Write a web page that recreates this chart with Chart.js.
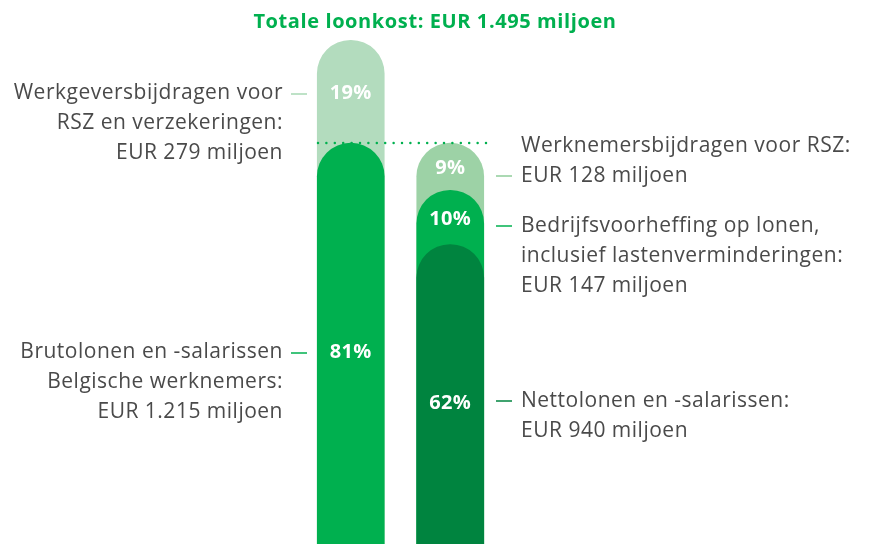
<!DOCTYPE html>
<html>
<head>
<meta charset="utf-8">
<script src="https://cdn.jsdelivr.net/npm/chart.js@4"></script>
<style>
  html, body { margin: 0; padding: 0; background: #fff; overflow: hidden; }
  #wrap { width: 872px; height: 544px; overflow: hidden; position: relative; }
</style>
</head>
<body>
<div id="wrap"><canvas id="chart" width="872" height="600"></canvas></div>
<script>
// Data (EUR miljoen)
const categories = ['Totale loonkost', 'Brutolonen'];
const loonkostParts = [1215, 279];          // bruto, werkgeversbijdragen
const brutoParts = [940, 147, 128];         // netto, bedrijfsvoorheffing, werknemersbijdragen
const loonkostPct = ['81%', '19%'];
const brutoPct = ['62%', '10%', '9%'];
const totalLoonkost = 1495;
const titleText = 'Totale loonkost: EUR 1.495 miljoen';

const leftNotes = [
    ['Werkgeversbijdragen voor', 'RSZ en verzekeringen:', 'EUR 279 miljoen'],
    ['Brutolonen en -salarissen', 'Belgische werknemers:', 'EUR 1.215 miljoen']
];
const rightNotes = [
    ['Werknemersbijdragen voor RSZ:', 'EUR 128 miljoen'],
    ['Bedrijfsvoorheffing op lonen,', 'inclusief lastenverminderingen:', 'EUR 147 miljoen'],
    ['Nettolonen en -salarissen:', 'EUR 940 miljoen']
];

// Colours
const LIGHT = '#b3dcbe';
const MID = '#9dd2a6';
const BRIGHT = '#00b04f';
const DARK = '#00843f';
const TEXT = '#4a4a4a';

// layout of the annotation texts (first baseline, line with the dash)
const leftLayout = [
    { y: 99, dash: 0, color: '#a9d9b4' },
    { y: 358, dash: 0, color: BRIGHT }
];
const rightLayout = [
    { y: 152, dash: 1, color: '#8fcd9a' },
    { y: 232, dash: 0, color: BRIGHT },
    { y: 407, dash: 0, color: DARK }
];
const LINE_H = 30;
const VISIBLE_BOTTOM = 558;

// cumulative tops per level
function cumulative(parts) {
    let sum = 0;
    return parts.map(v => (sum += v));
}
const loonkostTops = cumulative(loonkostParts);
const brutoTops = cumulative(brutoParts);

const segColors = [
    [BRIGHT, DARK],
    [LIGHT, BRIGHT],
    [null, MID]
];

const datasets = [0, 1, 2].map(i => ({
    label: 'level' + i,
    data: [loonkostTops[i] ?? null, brutoTops[i] ?? null],
    backgroundColor: segColors[i],
    grouped: false,
    barThickness: 67,
    borderSkipped: false,
    borderRadius: { topLeft: 34, topRight: 34, bottomLeft: 0, bottomRight: 0 }
}));

const FONT = '"Open Sans", "Noto Sans", sans-serif';

const decorations = {
    id: 'decorations',
    afterDatasetsDraw(chart) {
        const ctx = chart.ctx;
        const x = chart.scales.x;
        const y = chart.scales.y;

        // dotted line at the gross salary level
        ctx.save();
        ctx.fillStyle = BRIGHT;
        const yLine = Math.round(y.getPixelForValue(loonkostTops[0]));
        for (let px = 318; px <= 486; px += 8.4) {
            ctx.beginPath();
            ctx.arc(px, yLine, 1.25, 0, Math.PI * 2);
            ctx.fill();
        }
        ctx.restore();

        // percentages inside the bars
        ctx.save();
        ctx.fillStyle = '#fff';
        ctx.font = 'bold 20px ' + FONT;
        ctx.letterSpacing = '0.3px';
        ctx.textAlign = 'center';
        ctx.textBaseline = 'alphabetic';
        const drawPct = (idx, tops, pcts) => {
            const cx = x.getPixelForValue(idx);
            tops.forEach((t, i) => {
                const top = y.getPixelForValue(t);
                const bottom = i === 0 ? VISIBLE_BOTTOM : y.getPixelForValue(tops[i - 1]);
                ctx.fillText(pcts[i], cx, (top + bottom) / 2 + 7.5);
            });
        };
        drawPct(0, loonkostTops, loonkostPct);
        drawPct(1, brutoTops, brutoPct);
        ctx.restore();

        // title
        ctx.save();
        ctx.fillStyle = BRIGHT;
        ctx.font = 'bold 20px ' + FONT;
        ctx.letterSpacing = '0.6px';
        ctx.textAlign = 'center';
        ctx.fillText(titleText, 435, 28);
        ctx.restore();

        // annotations
        ctx.save();
        ctx.font = '21px ' + FONT;
        ctx.letterSpacing = '0.5px';
        ctx.fillStyle = TEXT;
        ctx.lineWidth = 1.5;
        leftNotes.forEach((lines, n) => {
            const l = leftLayout[n];
            ctx.textAlign = 'right';
            lines.forEach((s, i) => ctx.fillText(s, 283, l.y + i * LINE_H));
            const dy = l.y + l.dash * LINE_H - 5;
            ctx.strokeStyle = l.color;
            ctx.beginPath();
            ctx.moveTo(291, dy);
            ctx.lineTo(307, dy);
            ctx.stroke();
        });
        rightNotes.forEach((lines, n) => {
            const l = rightLayout[n];
            ctx.textAlign = 'left';
            lines.forEach((s, i) => ctx.fillText(s, 521, l.y + i * LINE_H));
            const dy = l.y + l.dash * LINE_H - 6;
            ctx.strokeStyle = l.color;
            ctx.beginPath();
            ctx.moveTo(496, dy);
            ctx.lineTo(512, dy);
            ctx.stroke();
        });
        ctx.restore();
    }
};

new Chart(document.getElementById('chart'), {
    type: 'bar',
    data: { labels: categories, datasets },
    options: {
        responsive: false,
        animation: false,
        devicePixelRatio: 1,
        layout: { padding: { top: 40, bottom: 9, left: 301, right: 372 } },
        plugins: {
            legend: { display: false },
            tooltip: { enabled: false },
            title: { display: false }
        },
        scales: {
            x: { display: false, offset: true },
            y: { display: false, min: 0, max: totalLoonkost }
        }
    },
    plugins: [decorations]
});
</script>
</body>
</html>
